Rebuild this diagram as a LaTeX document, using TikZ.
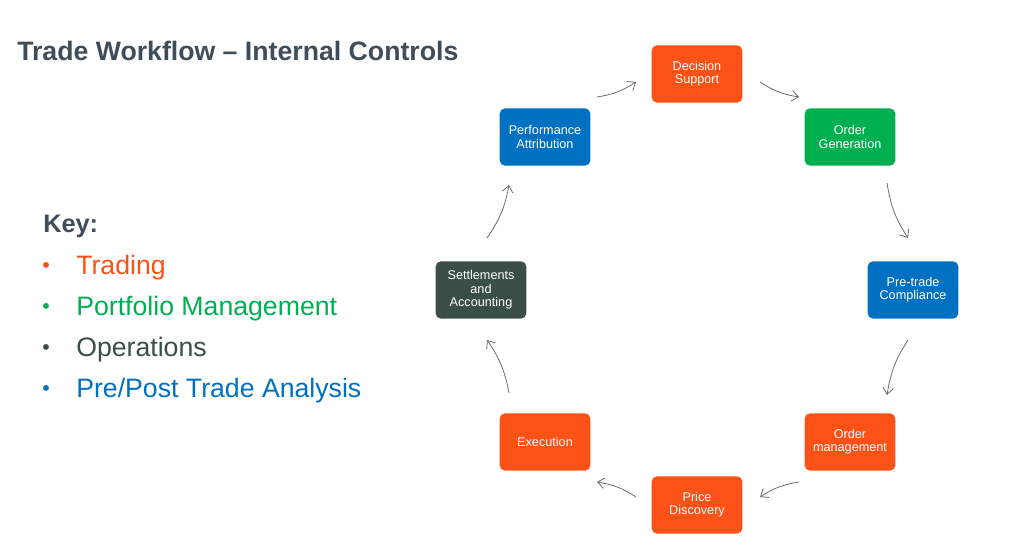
\documentclass[tikz,border=0pt]{standalone}
\usepackage{fontspec}
\setmainfont{Liberation Sans}
\usetikzlibrary{arrows.meta}
\definecolor{tor}{HTML}{FC5117}
\definecolor{tgr}{HTML}{00B050}
\definecolor{tbl}{HTML}{0070C0}
\definecolor{tdk}{HTML}{3A4D47}
\definecolor{ttl}{HTML}{3F4D5A}
\begin{document}
\begin{tikzpicture}[x=0.75pt,y=-0.75pt,
 box/.style={rounded corners=4pt,minimum width=68pt,minimum height=43pt,text width=64pt,align=center,text=white,font=\fontsize{9.5}{10}\selectfont,inner sep=1pt},
 arr/.style={draw=gray!85!black,line width=0.6pt,-{Straight Barb[length=5pt,width=8pt]}},
 itm/.style={anchor=west,font=\fontsize{20}{22}\selectfont,inner sep=0}]
\useasboundingbox (0,0) rectangle (1016,546);
\node[anchor=west,text=ttl,font=\bfseries\fontsize{20}{22}\selectfont,inner sep=0] (title) at (17,51) {Trade Workflow -- Internal Controls};
\node[anchor=west,text=ttl,font=\bfseries\fontsize{19}{21}\selectfont,inner sep=0] (key) at (43,226) {Key:};
\foreach \y/\c/\t [count=\i] in {268/tor/{Trading},309/tgr/{Portfolio Management},350/tdk/{Operations},391/tbl/{Pre/Post Trade Analysis}}{
 \node[anchor=west,text=\c,font=\fontsize{16}{18}\selectfont,inner sep=0] (b\i) at (42,\y) {\textbullet};
 \node[itm,text=\c] (k\i) at (76,\y) {\t};}
\node[box,fill=tor] (ds) at (697,74) {Decision\\Support};
\node[box,fill=tgr] (og) at (850,137) {Order\\Generation};
\node[box,fill=tbl] (pc) at (913,290) {Pre-trade\\Compliance};
\node[box,fill=tor] (om) at (850,442) {Order\\management};
\node[box,fill=tor] (pd) at (697,505) {Price\\Discovery};
\node[box,fill=tor] (ex) at (545,442) {Execution};
\node[box,fill=tdk] (sa) at (481,290) {Settlements\\and\\Accounting};
\node[box,fill=tbl] (pa) at (545,137) {Performance\\Attribution};
\coordinate (a1) at (597,97); \coordinate (e1) at (636,82);
\coordinate (a2) at (760,82); \coordinate (e2) at (799,97);
\coordinate (a3) at (887,183); \coordinate (e3) at (908,238);
\coordinate (a4) at (908,340); \coordinate (e4) at (887,395);
\coordinate (a5) at (799,482); \coordinate (e5) at (760,497);
\coordinate (a6) at (636,497); \coordinate (e6) at (597,482);
\coordinate (a7) at (509,393); \coordinate (e7) at (487,340);
\coordinate (a8) at (487,238); \coordinate (e8) at (509,185);
\foreach \i in {1,...,8}{\draw[arr] (a\i) to[bend right=12] (e\i);}
\end{tikzpicture}
\end{document}
